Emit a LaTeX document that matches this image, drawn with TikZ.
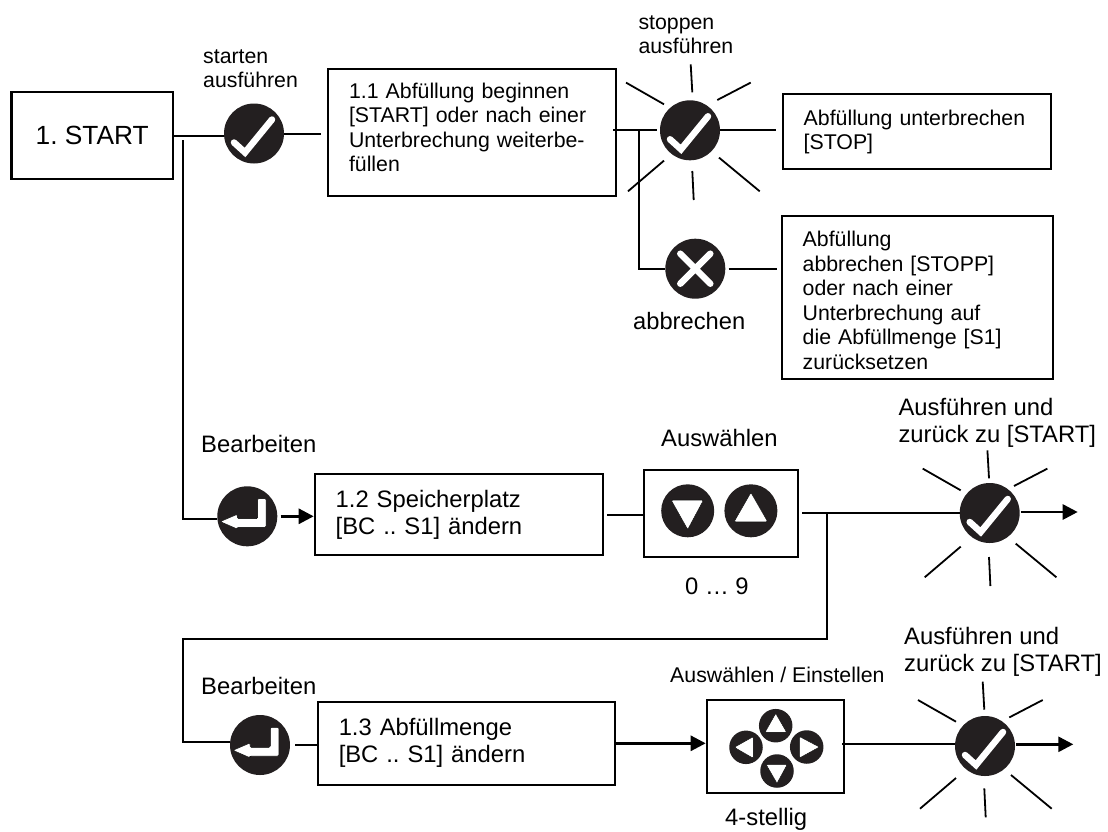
\documentclass[tikz,border=0pt]{standalone}
\usepackage{fontspec}
\setmainfont{Liberation Sans}
\usetikzlibrary{arrows.meta}
\definecolor{btnblack}{HTML}{231F20}
\frenchspacing
\tikzset{
  smalltxt/.style={font=\fontsize{21.3}{24.5}\selectfont},
  bigtxt/.style={font=\fontsize{23.8}{27}\selectfont},
  lbl/.style={inner sep=0pt, align=left, anchor=west},
  box/.style 2 args={draw, line width=2pt, inner xsep=21pt, inner ysep=0pt, align=left,
    text width=#1-42pt, minimum height=#2},
  keybox/.style 2 args={draw, line width=2pt, minimum width=#1, minimum height=#2},
  btn/.style={circle, fill=btnblack, inner sep=0pt, minimum size=60pt},
  keybtn/.style={circle, fill=btnblack, inner sep=0pt, minimum size=#1},
  tick/.style={draw=white, line width=6.5pt, line cap=round, line join=miter},
  glyph/.style={fill=white, rounded corners=1.2pt},
  ray/.style={line width=1.8pt},
  conn/.style={line width=2pt},
  arr/.style={line width=2.8pt, -{Triangle[length=15pt,width=15pt]}}
}
\begin{document}
\begin{tikzpicture}[x=1pt, y=-1pt]
\useasboundingbox (0,0) rectangle (1108,831);

% boxes
\node[draw, line width=2.4pt, minimum width=161.5pt, minimum height=87pt, font=\fontsize{26.3}{30}\selectfont] (start) at (92.2,135.5) {1. START};
\node[box={288pt}{127pt}, smalltxt] (box11) at (472,132.5) {1.1 Abfüllung beginnen\\{[}START] oder nach einer\\Unterbrechung weiterbe-\\füllen\rule[-10pt]{0pt}{0pt}};
\node[box={268pt}{75pt}, smalltxt] (boxstop) at (916.7,131.8) {Abfüllung unterbrechen\\{[}STOP]};
\node[box={271.6pt}{163.3pt}, smalltxt] (boxabort) at (917.5,297.7) {\rule{0pt}{21pt}Abfüllung\\abbrechen [STOPP]\\oder nach einer\\Unterbrechung auf\\die Abfüllmenge [S1]\\zurücksetzen};
\node[box={288.6pt}{80.7pt}, bigtxt] (box12) at (459,514.7) {1.2 Speicherplatz\\{[}BC .. S1] ändern};
\node[box={296.9pt}{83.3pt}, bigtxt] (box13) at (466.2,743.3) {1.3 Abfüllmenge\\{[}BC .. S1] ändern};
\node[keybox={154.5pt}{87pt}] (select1) at (721,513) {};
\node[keybox={137pt}{93.3pt}] (select2) at (775.2,746.7) {};

% round buttons with tick
\foreach \name/\x/\y in {check/254/133.5, stopcheck/690/130.3, sunA/989.7/513, sunB/985/746}
{
    \node[btn] (\name) at (\x,\y) {};
    \draw[tick, shift={(\x,\y)}] (-20,9)--(-9,19)--(18,-14);
}
% rays
\foreach \x/\y in {690/130.3, 986.7/516.3, 982/747.7}
{
    \foreach \a/\b/\c/\d in {.7/-66/2.3/-38, -64/-47.7/-26/-26, 60.7/-47.7/27.3/-30.3, -26/30.3/-62/61, 29/27.3/69.7/61, 2.3/40.7/3.7/69.7}
    {
        \draw[ray, shift={(\x,\y)}] (\a,\b)--(\c,\d);
    }
}
% cross
\node[btn] (cross) at (695.3,268.7) {};
\draw[tick, shift={(695.3,268.7)}] (-15,-15)--(15,15) (15,-15)--(-15,15);
% enter keys
\foreach \name/\x/\y in {enterA/247.3/516.3, enterB/260/745}
{
    \node[btn] (\name) at (\x,\y) {};
    \draw[glyph, shift={(\x,\y)}] (10.3,-17.7)--(18.8,-17.7)--(18.8,11)--(-10,11)--(-10,12.7)--(-27,5.3)--(-10,-2)--(-10,2.3)--(10.3,2.3)--cycle;
}
% arrow keys, row 1.2
\node[keybtn=53pt] (keydown) at (687.7,510.8) {};
\node[keybtn=53pt] (keyup) at (750.9,510.8) {};
\draw[glyph, shift={(687.7,510.8)}] (-16.5,-10.7)--(15.7,-10.7)--(0,18.7)--cycle;
\draw[glyph, shift={(750.9,510.8)}] (0,-18.3)--(-16.8,11)--(16.8,11)--cycle;
% arrow keys, row 1.3
\node[keybtn=33.5pt] (padup) at (775.7,725.7) {};
\node[keybtn=33.5pt] (padleft) at (746,747.3) {};
\node[keybtn=33.5pt] (padright) at (806.7,747) {};
\node[keybtn=33.5pt] (paddown) at (777,771) {};
\draw[glyph, shift={(775.7,725.7)}] (0,-12.3)--(-10.7,6.7)--(11,6.7)--cycle;
\draw[glyph, shift={(746,747.3)}] (-11.7,0)--(7.3,-10.7)--(7.3,11)--cycle;
\draw[glyph, shift={(806.7,747)}] (12.7,0)--(-7.3,-10.5)--(-7.3,11)--cycle;
\draw[glyph, shift={(777,771)}] (0,12.3)--(-11,-6.7)--(10.3,-6.7)--cycle;

% labels
\node[lbl, smalltxt] (lblstart) at (203,68.5) {starten\\ausführen};
\node[lbl, smalltxt] (lblstop) at (638.3,34.5) {stoppen\\ausführen};
\node[lbl, font=\fontsize{23.7}{27}\selectfont] (lblabort) at (633,321) {abbrechen};
\node[lbl, bigtxt] (lbleditA) at (201,444) {Bearbeiten};
\node[lbl, bigtxt] (lbleditB) at (201,686) {Bearbeiten};
\node[lbl, bigtxt] (lblselA) at (661,438) {Auswählen};
\node[lbl, smalltxt] (lblselB) at (670,675) {Auswählen / Einstellen};
\node[lbl, bigtxt] (lblrange) at (685,586.7) {0 … 9};
\node[lbl, bigtxt] (lbldigits) at (725,819) {4-stellig};
\node[lbl, bigtxt] (lblsunA) at (898.3,422.5) {Ausführen und\\zurück zu [START]};
\node[lbl, bigtxt] (lblsunB) at (904,651.5) {Ausführen und\\zurück zu [START]};

% connectors
\coordinate (jstart) at (183,140);
\coordinate (jstop) at (639.3,130.3);
\coordinate (jsel) at (827.3,513);
\coordinate (jback) at (183,639);
\coordinate (endA) at (1077.7,512);
\coordinate (endB) at (1073.3,744.3);

\draw[conn] (start.east) -- (start.east -| check.west);
\draw[conn, shorten >=6pt] (check.east) -- (check.east -| box11.west);
\draw[conn, shorten <=3pt, shorten >=-4pt] (stopcheck.west) -- (stopcheck.west -| box11.east);
\draw[conn] (jstop) |- (cross.west);
\draw[conn, shorten >=6pt] (stopcheck.east) -- (stopcheck.east -| boxstop.west);
\draw[conn, shorten <=3pt, shorten >=4pt] (cross.east) -- (cross.east -| boxabort.west);
\draw[conn] (jstart) |- ([yshift=-2.7pt]enterA.west);
\draw[arr, shorten <=3pt] (enterA.east) -- (enterA.east -| box12.west);
\draw[conn, shorten <=3pt] (box12.east) -- (box12.east -| select1.west);
\draw[conn, shorten <=3pt] (select1.east) -- (sunA.west);
\draw[conn] (jsel) |- (jback) |- ([yshift=3.3pt]enterB.west);
\draw[conn, shorten <=5pt] (enterB.east) -- (enterB.east -| box13.west);
\draw[arr] (box13.east) -- (box13.east -| select2.west);
\draw[conn, shorten >=-3pt] ([yshift=2.3pt]sunB.west) -- ([yshift=2.3pt]sunB.west -| select2.east);
\draw[arr, shorten <=1pt] ([yshift=1pt]sunA.east) -- (endA);
\draw[arr, shorten <=1pt] ([yshift=1.7pt]sunB.east) -- (endB);
\end{tikzpicture}
\end{document}
